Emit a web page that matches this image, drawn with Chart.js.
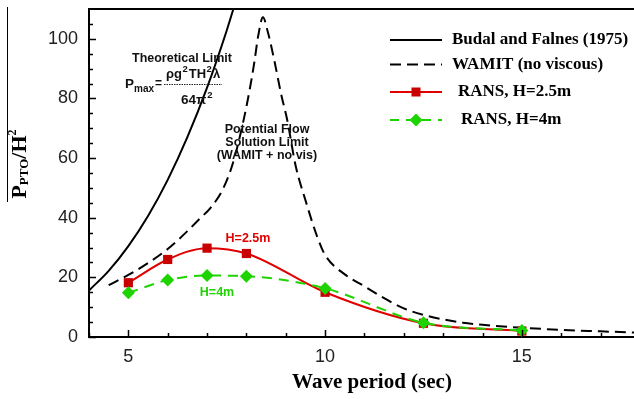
<!DOCTYPE html>
<html>
<head>
<meta charset="utf-8">
<script src="https://cdn.jsdelivr.net/npm/chart.js@4.4.1/dist/chart.umd.min.js"></script>
<style>
html,body{margin:0;padding:0;background:#fff;}
#wrap{width:634px;height:399px;}
</style>
</head>
<body>
<div id="wrap"><canvas id="myChart" width="634" height="399"></canvas></div>
<script>
// wave period (sec) vs P_PTO/H^2
var budalT = [4, 4.5, 5, 5.5, 6, 6.5, 7, 7.5, 7.75];
var budalP = [15.6, 22.2, 30.5, 40.6, 52.7, 67.0, 83.6, 102.8, 113.5];

var wamitT = [4.5, 5, 5.5, 6, 6.5, 6.8, 7.1, 7.4, 7.65, 7.9, 8.07, 8.2, 8.3, 8.42, 8.55, 8.71, 8.88, 9.04, 9.25, 9.5, 9.8, 10, 10.5, 11, 11.5, 12, 12.5, 13, 13.5, 14, 15, 16, 17, 17.85];
var wamitP = [17.4, 20.8, 24.8, 29.5, 35.5, 39.5, 43.5, 49.5, 58, 71, 82, 92, 101, 107.2, 102, 92.7, 81.6, 72.6, 57.5, 45.9, 33.6, 27.5, 21, 17, 13, 9.6, 7.4, 5.9, 4.8, 4.1, 3.1, 2.4, 1.9, 1.5];

var ransT = [5, 6, 7, 8, 10, 12.5, 15];
var rans25 = [18.2, 26.0, 29.8, 28.0, 15.0, 4.6, 2.0];
var rans4 = [14.8, 19.1, 20.6, 20.4, 16.3, 4.8, 2.2];

var xMajor = [5, 10, 15];
var xMinor = [4, 6, 7, 8, 9, 11, 12, 13, 14, 16, 17];
var yMajor = [0, 20, 40, 60, 80, 100];
var yMinor = [5, 10, 15, 25, 30, 35, 45, 50, 55, 65, 70, 75, 85, 90, 95, 105];

var RED = '#e00000', RED_DARK = '#c80000', GREEN = '#1ed400';
var SERIF = '"Liberation Serif", "Times New Roman", serif';
var SANS = '"Liberation Sans", Arial, Helvetica, sans-serif';

function pts(xs, ys) {
  return xs.map(function(x, i) { return {x: x, y: ys[i]}; });
}

// draw pieces of text one after another: [text, size, dy, gapAfter]
function runs(c, parts, x, y, font, color) {
  c.fillStyle = color;
  parts.forEach(function(p) {
    c.font = 'bold ' + p[1] + 'px ' + font;
    c.fillText(p[0], x, y + (p[2] || 0));
    x += c.measureText(p[0]).width + (p[3] || 0);
  });
  return x;
}
function runsWidth(c, parts, font) {
  var w = 0;
  parts.forEach(function(p) {
    c.font = 'bold ' + p[1] + 'px ' + font;
    w += c.measureText(p[0]).width + (p[3] || 0);
  });
  return w;
}

var extras = {
  id: 'extras',
  afterDraw: function(chart) {
    var c = chart.ctx, a = chart.chartArea;
    var xs = chart.scales.x, ys = chart.scales.y;
    c.save();

    // frame top + stray page edge on the left
    c.strokeStyle = '#000';
    c.lineWidth = 2;
    c.beginPath(); c.moveTo(a.left - 1, a.top); c.lineTo(a.right, a.top); c.stroke();
    c.lineWidth = 1;
    c.beginPath(); c.moveTo(7.5, 7); c.lineTo(7.5, 202); c.stroke();

    // inside ticks
    c.lineWidth = 1.5;
    c.beginPath();
    xMajor.concat(xMinor).forEach(function(v) {
      var px = Math.round(xs.getPixelForValue(v)) + 0.5;
      var len = xMajor.indexOf(v) >= 0 ? 7 : 4;
      c.moveTo(px, a.bottom); c.lineTo(px, a.bottom - len);
    });
    yMajor.concat(yMinor).forEach(function(v) {
      var py = Math.round(ys.getPixelForValue(v)) + 0.5;
      var len = yMajor.indexOf(v) >= 0 ? 7 : 4;
      c.moveTo(a.left, py); c.lineTo(a.left + len, py);
    });
    c.stroke();

    // annotations
    c.textBaseline = 'middle';
    c.textAlign = 'center';
    c.fillStyle = '#111';
    c.font = 'bold 12.5px ' + SANS;
    c.fillText('Theoretical Limit', 182, 58.5);
    c.fillText('Potential Flow', 267, 130);
    c.fillText('Solution Limit', 267, 142.5);
    c.fillText('(WAMIT + no vis)', 267, 155.5);
    c.fillStyle = RED;
    c.fillText('H=2.5m', 248, 238.5);
    c.fillStyle = GREEN;
    c.fillText('H=4m', 217, 293);

    // P_max = rho g^2 T H^2 lambda / 64 pi^2
    c.textAlign = 'left';
    c.textBaseline = 'alphabetic';
    runs(c, [['P', 13.5, 0], ['max', 10, 4]], 125, 88, SANS, '#111');
    runs(c, [['=', 12, 0]], 155, 87, SANS, '#111');
    runs(c, [['\u03c1g', 13, 0, 0.5], ['2', 9.5, -6, 1], ['TH', 13, 0, 0.5], ['2', 9.5, -6, 1], ['\u03bb', 13, 0]], 166, 78, SANS, '#111');
    runs(c, [['64\u03c0', 13.5, 0, 1], ['2', 9.5, -6]], 181, 104, SANS, '#111');
    c.strokeStyle = '#222';
    c.lineWidth = 1;
    c.setLineDash([1.5, 1]);
    c.beginPath(); c.moveTo(164, 84.5); c.lineTo(222, 84.5); c.stroke();
    c.setLineDash([]);

    // axis titles
    c.textAlign = 'center';
    c.textBaseline = 'middle';
    c.fillStyle = '#000';
    c.font = 'bold 21px ' + SERIF;
    c.fillText('Wave period (sec)', 372, 383);

    c.save();
    c.translate(26, 164);
    c.rotate(-Math.PI / 2);
    c.textAlign = 'left';
    c.textBaseline = 'alphabetic';
    var yt = [['P', 22, 0], ['PTO', 13, 2], ['/H', 22, 0], ['2', 12, -10]];
    runs(c, yt, -runsWidth(c, yt, SERIF) / 2, 0, SERIF, '#000');
    c.restore();

    // legend
    var lx0 = 390, lx1 = 442, mx = 416;
    var rows = [40, 64.5, 92, 120];
    c.lineWidth = 2;
    c.strokeStyle = '#000';
    c.beginPath(); c.moveTo(lx0, rows[0]); c.lineTo(lx1, rows[0]); c.stroke();
    c.setLineDash([11, 6]);
    c.beginPath(); c.moveTo(lx0, rows[1]); c.lineTo(lx1, rows[1]); c.stroke();
    c.setLineDash([]);
    c.strokeStyle = RED;
    c.beginPath(); c.moveTo(lx0, rows[2]); c.lineTo(lx1, rows[2]); c.stroke();
    c.fillStyle = RED_DARK;
    c.fillRect(mx - 4.5, rows[2] - 4.5, 9, 9);
    c.strokeStyle = GREEN;
    c.setLineDash([9, 7]);
    c.beginPath(); c.moveTo(lx0, rows[3]); c.lineTo(lx1, rows[3]); c.stroke();
    c.setLineDash([]);
    c.fillStyle = GREEN;
    c.beginPath();
    c.moveTo(mx, rows[3] - 6.5); c.lineTo(mx + 6.5, rows[3]); c.lineTo(mx, rows[3] + 6.5); c.lineTo(mx - 6.5, rows[3]);
    c.closePath(); c.fill();

    c.fillStyle = '#000';
    c.textAlign = 'left';
    c.textBaseline = 'middle';
    c.font = 'bold 17px ' + SERIF;
    c.fillText('Budal and Falnes (1975)', 452, rows[0]);
    c.fillText('WAMIT (no viscous)', 452, rows[1]);
    c.fillText('RANS, H=2.5m', 458, rows[2]);
    c.fillText('RANS, H=4m', 461, rows[3]);

    c.restore();
  }
};

var ctx = document.getElementById('myChart').getContext('2d');
var chart = new Chart(ctx, {
  type: 'scatter',
  data: {
    datasets: [{
      label: 'RANS, H=4m',
      data: pts(ransT, rans4),
      showLine: true,
      borderColor: GREEN,
      backgroundColor: GREEN,
      borderWidth: 2,
      borderDash: [10, 7],
      pointStyle: 'rectRot',
      pointRadius: 6.5,
      pointBorderWidth: 0,
      cubicInterpolationMode: 'monotone',
      order: 0
    }, {
      label: 'RANS, H=2.5m',
      data: pts(ransT, rans25),
      showLine: true,
      borderColor: RED,
      backgroundColor: RED_DARK,
      borderWidth: 2,
      pointStyle: 'rect',
      pointRadius: 6.5,
      pointBorderWidth: 0,
      cubicInterpolationMode: 'monotone',
      order: 1
    }, {
      label: 'WAMIT (no viscous)',
      data: pts(wamitT, wamitP),
      showLine: true,
      borderColor: '#000',
      borderWidth: 2,
      borderDash: [11, 6],
      pointRadius: 0,
      cubicInterpolationMode: 'monotone',
      order: 2
    }, {
      label: 'Budal and Falnes (1975)',
      data: pts(budalT, budalP),
      showLine: true,
      borderColor: '#000',
      borderWidth: 2,
      pointRadius: 0,
      cubicInterpolationMode: 'monotone',
      order: 3
    }]
  },
  options: {
    responsive: false,
    animation: false,
    devicePixelRatio: 1,
    layout: { autoPadding: false, padding: { top: 9, right: 0, left: 0, bottom: 0 } },
    plugins: { legend: { display: false }, tooltip: { enabled: false } },
    scales: {
      x: {
        type: 'linear',
        min: 4,
        max: 17.85,
        grid: { display: false, drawTicks: false },
        border: { display: true, color: '#000', width: 2 },
        ticks: { font: { family: SANS, size: 18 }, color: '#222', padding: 9 },
        afterBuildTicks: function(s) { s.ticks = xMajor.map(function(v) { return {value: v}; }); },
        afterFit: function(s) { s.height = 62; s.paddingLeft = 0; s.paddingRight = 0; }
      },
      y: {
        type: 'linear',
        min: 0,
        max: 110,
        grid: { display: false, drawTicks: false },
        border: { display: true, color: '#000', width: 2 },
        ticks: { font: { family: SANS, size: 18 }, color: '#222', padding: 11 },
        afterBuildTicks: function(s) { s.ticks = yMajor.map(function(v) { return {value: v}; }); },
        afterFit: function(s) { s.width = 89; s.paddingTop = 0; s.paddingBottom = 0; }
      }
    }
  },
  plugins: [extras]
});
</script>
</body>
</html>
